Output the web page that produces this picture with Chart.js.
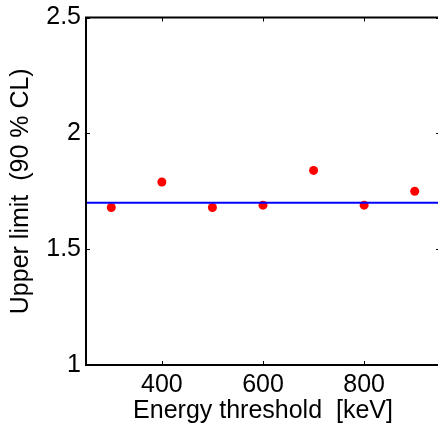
<!DOCTYPE html>
<html>
<head>
<meta charset="utf-8">
<script src="https://cdn.jsdelivr.net/npm/chart.js@4/dist/chart.umd.min.js"></script>
<style>
  html, body { margin: 0; padding: 0; background: #fff; overflow: hidden; width: 438px; height: 432px; }
  #wrap { width: 446px; height: 432px; }
</style>
</head>
<body>
<div id="wrap"><canvas id="c" width="446" height="432"></canvas></div>
<script>
// Data
const thresholds = [300, 400, 500, 600, 700, 800, 900];
const upperLimits = [1.68, 1.79, 1.68, 1.69, 1.84, 1.69, 1.75];
const meanLimit = 1.70;
const xRange = [250, 950];
const yRange = [1, 2.5];
const xTicks = [400, 600, 800];
const yTicks = [1, 1.5, 2, 2.5];
const xTitle = 'Energy threshold  [keV]';
const yTitle = 'Upper limit  (90 % CL)';

const FONT = 'Liberation Sans, Arial, Helvetica, sans-serif';

const framePlugin = {
  id: 'frame',
  afterDatasetsDraw(chart) {
    const {ctx, chartArea: a, scales} = chart;
    const x = scales.x, y = scales.y;
    ctx.save();
    ctx.strokeStyle = '#000';
    ctx.lineWidth = 1;
    const tl = 4;
    ctx.beginPath();
    xTicks.forEach(v => {
      const px = Math.round(x.getPixelForValue(v)) + 0.5;
      ctx.moveTo(px, a.bottom); ctx.lineTo(px, a.bottom - tl);
      ctx.moveTo(px, a.top); ctx.lineTo(px, a.top + tl);
    });
    yTicks.forEach(v => {
      const py = Math.round(y.getPixelForValue(v)) + 0.5;
      ctx.moveTo(a.left, py); ctx.lineTo(a.left + tl, py);
      ctx.moveTo(a.right, py); ctx.lineTo(a.right - tl, py);
    });
    ctx.stroke();
    ctx.lineWidth = 2;
    ctx.strokeRect(a.left, a.top, a.right - a.left, a.bottom - a.top);
    ctx.restore();
  }
};

new Chart(document.getElementById('c'), {
  type: 'scatter',
  data: {
    datasets: [
      {
        type: 'line',
        data: [{x: xRange[0], y: meanLimit}, {x: xRange[1], y: meanLimit}],
        borderColor: '#0000ff',
        borderWidth: 2,
        pointRadius: 0,
        fill: false,
        order: 0
      },
      {
        data: thresholds.map((t, i) => ({x: t, y: upperLimits[i]})),
        backgroundColor: '#ff0000',
        borderWidth: 0,
        pointRadius: 4.5,
        order: 1
      }
    ]
  },
  options: {
    responsive: false,
    animation: false,
    devicePixelRatio: 1,
    layout: { padding: { top: 13, right: 6, left: 0, bottom: 0 } },
    plugins: { legend: { display: false }, tooltip: { enabled: false } },
    scales: {
      x: {
        type: 'linear',
        min: xRange[0], max: xRange[1],
        afterBuildTicks: s => { s.ticks = xTicks.map(v => ({value: v})); },
        afterFit: s => { s.height = 67; },
        grid: { display: false, drawTicks: false },
        border: { display: false },
        ticks: { color: '#000', padding: 8, font: { family: FONT, size: 25, lineHeight: 1 } },
        title: { display: true, text: xTitle, color: '#000', padding: { top: 0, bottom: 6 }, font: { family: FONT, size: 25 } }
      },
      y: {
        type: 'linear',
        min: yRange[0], max: yRange[1],
        afterBuildTicks: s => { s.ticks = yTicks.map(v => ({value: v})); },
        afterFit: s => { s.width = 86; },
        grid: { display: false, drawTicks: false },
        border: { display: false },
        ticks: { color: '#000', padding: 5, font: { family: FONT, size: 25, lineHeight: 1 }, callback: v => String(v) },
        title: { display: true, text: yTitle, color: '#000', padding: { top: 6, bottom: 0 }, font: { family: FONT, size: 25 } }
      }
    }
  },
  plugins: [framePlugin]
});
</script>
</body>
</html>
